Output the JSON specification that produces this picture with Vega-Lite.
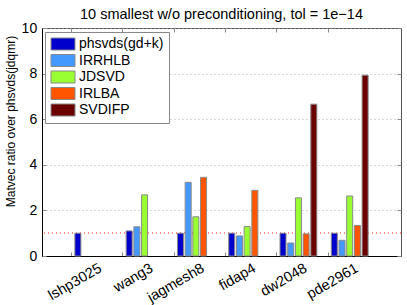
{
  "$schema": "https://vega.github.io/schema/vega-lite/v6.json",
  "width": 359,
  "height": 228,
  "autosize": {"type": "none"},
  "padding": {"left": 42, "top": 28, "right": 6, "bottom": 49},
  "background": "white",
  "title": {"text": "10 smallest w/o preconditioning, tol = 1e−14", "fontSize": 14.5, "font": "Liberation Sans", "fontWeight": "normal", "offset": -1, "color": "black"},
  "config": {
    "view": {"stroke": "#555", "strokeWidth": 1},
    "font": "Liberation Sans"
  },
  "data": {"values": [
    {"matrix": "lshp3025", "method": "phsvds(gd+k)", "value": 1.0},
    {"matrix": "wang3", "method": "phsvds(gd+k)", "value": 1.10},
    {"matrix": "wang3", "method": "IRRHLB", "value": 1.28},
    {"matrix": "wang3", "method": "JDSVD", "value": 2.68},
    {"matrix": "jagmesh8", "method": "phsvds(gd+k)", "value": 1.0},
    {"matrix": "jagmesh8", "method": "IRRHLB", "value": 3.23},
    {"matrix": "jagmesh8", "method": "JDSVD", "value": 1.72},
    {"matrix": "jagmesh8", "method": "IRLBA", "value": 3.45},
    {"matrix": "fidap4", "method": "phsvds(gd+k)", "value": 1.0},
    {"matrix": "fidap4", "method": "IRRHLB", "value": 0.88},
    {"matrix": "fidap4", "method": "JDSVD", "value": 1.29},
    {"matrix": "fidap4", "method": "IRLBA", "value": 2.88},
    {"matrix": "dw2048", "method": "phsvds(gd+k)", "value": 1.0},
    {"matrix": "dw2048", "method": "IRRHLB", "value": 0.57},
    {"matrix": "dw2048", "method": "JDSVD", "value": 2.55},
    {"matrix": "dw2048", "method": "IRLBA", "value": 0.97},
    {"matrix": "dw2048", "method": "SVDIFP", "value": 6.66},
    {"matrix": "pde2961", "method": "phsvds(gd+k)", "value": 1.0},
    {"matrix": "pde2961", "method": "IRRHLB", "value": 0.69},
    {"matrix": "pde2961", "method": "JDSVD", "value": 2.63},
    {"matrix": "pde2961", "method": "IRLBA", "value": 1.34},
    {"matrix": "pde2961", "method": "SVDIFP", "value": 7.93}
  ]},
  "layer": [
    {
      "mark": {"type": "rule", "color": "#ff8c8c", "strokeDash": [1, 3], "strokeWidth": 1},
      "encoding": {"y": {"datum": 1, "type": "quantitative", "scale": {"domain": [0, 10]}, "axis": null}}
    },
    {
      "mark": {"type": "bar", "stroke": "#888", "strokeWidth": 1},
      "encoding": {
        "x": {"field": "matrix", "type": "nominal",
          "sort": ["lshp3025", "wang3", "jagmesh8", "fidap4", "dw2048", "pde2961"],
          "scale": {"paddingInner": 0, "paddingOuter": 0.5},
          "axis": {"orient": "bottom", "title": null, "labelAngle": -30, "labelAlign": "right", "labelBaseline": "top",
            "bandPosition": 0.079, "labelOffset": 4, "tickSize": -4, "tickColor": "#888", "labelPadding": 9,
            "domainColor": "black", "labelFontSize": 14.5, "labelColor": "black", "grid": false, "labelFont": "Liberation Sans"}},
        "xOffset": {"field": "method", "type": "nominal",
          "scale": {"domain": ["phsvds(gd+k)", "IRRHLB", "JDSVD", "IRLBA", "SVDIFP"], "paddingInner": 0.22, "paddingOuter": 0.94}},
        "y": {"field": "value", "type": "quantitative", "scale": {"domain": [0, 10]},
          "axis": {"orient": "left", "values": [0, 2, 4, 6, 8, 10], "tickSize": -4, "tickColor": "#888", "labelFontSize": 14,
            "labelPadding": 9.3, "labelColor": "black", "domainColor": "black",
            "grid": true, "gridDash": [1, 3], "gridColor": "#aaa",
            "title": "Matvec ratio over phsvds(jdqmr)", "titleFontSize": 12, "titleFontWeight": "normal", "titleColor": "black",
            "titleX": -28, "titleY": 93, "titleAlign": "center", "titleBaseline": "alphabetic", "titleAngle": -90}},
        "color": {"field": "method", "type": "nominal",
          "scale": {"domain": ["phsvds(gd+k)", "IRRHLB", "JDSVD", "IRLBA", "SVDIFP"],
            "range": ["#0000cc", "#4499ff", "#99ff33", "#ff5500", "#6b0000"]},
          "legend": {"orient": "none", "legendX": 3, "legendY": 4, "title": null, "fillColor": "white", "strokeColor": "#888",
            "padding": 5, "symbolType": "M-1,-1H3V1H-1Z", "symbolSize": 144, "symbolStrokeColor": "#888", "symbolStrokeWidth": 1,
            "symbolOpacity": 1, "labelFontSize": 14, "labelOffset": 15, "rowPadding": 0.5, "labelColor": "black", "labelFont": "Liberation Sans"}}
      }
    },
    {
      "mark": {"type": "bar", "opacity": 0},
      "encoding": {
        "x": {"field": "matrix", "type": "nominal",
          "sort": ["lshp3025", "wang3", "jagmesh8", "fidap4", "dw2048", "pde2961"],
          "axis": {"orient": "top", "labels": false, "title": null, "bandPosition": 0.079, "tickSize": -4, "tickColor": "#888", "domain": false, "grid": false}},
        "xOffset": {"field": "method", "type": "nominal"},
        "y": {"field": "value", "type": "quantitative",
          "axis": {"orient": "right", "labels": false, "title": null, "values": [0, 2, 4, 6, 8, 10], "tickSize": -4, "tickColor": "#888", "domain": false, "grid": false}}
      }
    }
  ],
  "resolve": {"axis": {"x": "independent", "y": "independent"}}
}
